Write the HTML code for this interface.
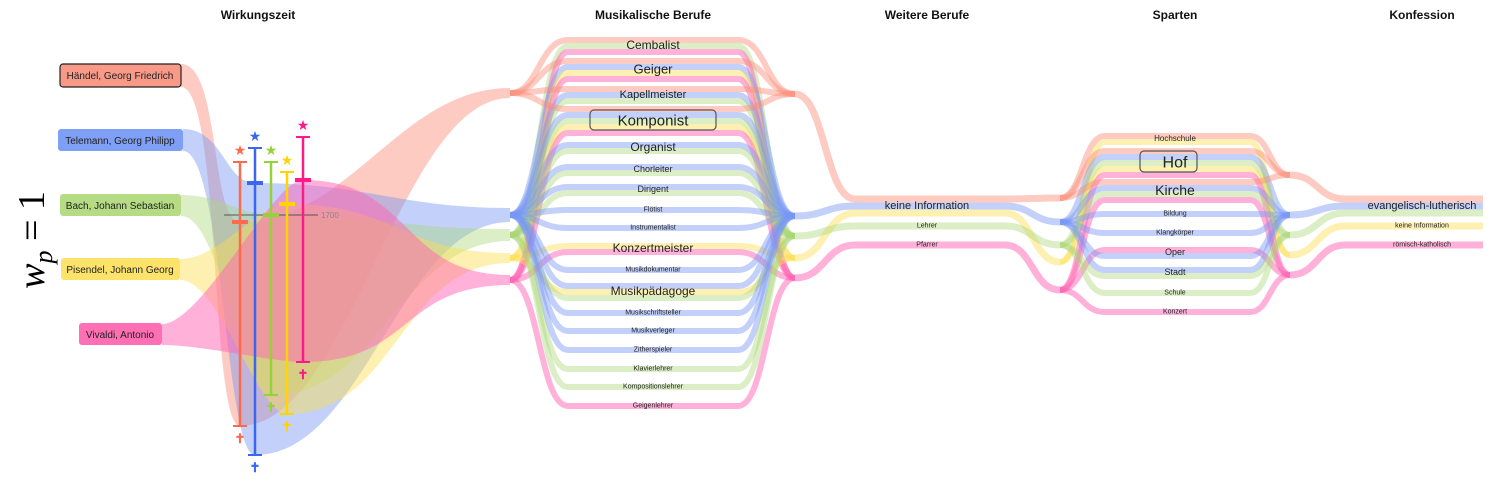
<!DOCTYPE html>
<html><head><meta charset="utf-8">
<style>
html,body{margin:0;padding:0;background:#fff;}
svg{display:block;font-family:"Liberation Sans",sans-serif;}
.h{font-weight:bold;font-size:12px;text-anchor:middle;fill:#111;}
.l{text-anchor:middle;fill:#222;}
</style></head><body>
<svg id="s" width="1499" height="484" viewBox="0 0 1499 484" xmlns="http://www.w3.org/2000/svg">
<g id="bands"></g>
<g id="fg">
<text class="h" x="258" y="19">Wirkungszeit</text>
<text class="h" x="653" y="19">Musikalische Berufe</text>
<text class="h" x="927" y="19">Weitere Berufe</text>
<text class="h" x="1175" y="19">Sparten</text>
<text class="h" x="1422" y="19">Konfession</text>
<text x="0" y="0" transform="translate(44,240) rotate(-90)" font-family="Liberation Serif,serif" font-size="38" text-anchor="middle" font-style="italic">w<tspan font-size="26" dy="8">p</tspan><tspan font-style="normal" dy="-8"> = 1</tspan></text>

<line x1="224" y1="215" x2="318" y2="215" stroke="#555" stroke-width="1"/>
<text x="321" y="218" font-size="8" fill="#888">1700</text>

<rect x="60" y="64" width="121" height="23" rx="3" fill="#f99a88" stroke="#222" stroke-width="1.2"/>
<text x="120" y="79" font-size="10" class="l">Händel, Georg Friedrich</text>
<rect x="58" y="129" width="125" height="22" rx="3" fill="#7f9ef5"/>
<text x="120" y="144" font-size="10" class="l">Telemann, Georg Philipp</text>
<rect x="60" y="194" width="121" height="22" rx="3" fill="#b5dc85"/>
<text x="120" y="209" font-size="10" class="l">Bach, Johann Sebastian</text>
<rect x="61" y="258" width="119" height="22" rx="3" fill="#fde36a"/>
<text x="120" y="273" font-size="10" class="l">Pisendel, Johann Georg</text>
<rect x="79" y="323" width="83" height="22" rx="3" fill="#ff6fb4"/>
<text x="120" y="338" font-size="10" class="l">Vivaldi, Antonio</text>

<g id="life"></g>

<rect x="590" y="110" width="126" height="20" rx="4" fill="none" stroke="#555" stroke-width="1.2"/>
<rect x="1140" y="151" width="57" height="21" rx="4" fill="none" stroke="#555" stroke-width="1.2"/>
<g id="labels"></g>
</g>
</svg>
<script>
var NS="http://www.w3.org/2000/svg";
function el(p,t,a,txt){var e=document.createElementNS(NS,t);for(var k in a)e.setAttribute(k,a[k]);if(txt)e.textContent=txt;document.getElementById(p).appendChild(e);return e;}
var C={r:"rgba(250,140,120,0.45)",b:"rgba(120,150,245,0.45)",g:"rgba(170,215,120,0.42)",y:"rgba(253,222,80,0.45)",p:"rgba(255,100,180,0.5)"};
var LC={r:"#ff6a4d",b:"#3a66f0",g:"#94d13a",y:"#ffd400",p:"#ff1a8c"};
var P=[
["r",[181,64,87],[240,222,426],[510,88,98]],
["b",[183,129,151],[255,183,455],[510,208,222]],
["g",[181,195,216],[271,215,395],[510,229,241]],
["y",[180,259,280],[287,204,414],[510,253,263]],
["p",[162,324,345],[303,180,362],[510,275,285]]];
P.forEach(function(q){var a=q[1],m=q[2],z=q[3];
var d="M"+a[0]+","+a[1]+" C"+(a[0]+40)+","+a[1]+" "+(m[0]-30)+","+m[1]+" "+m[0]+","+m[1]+
" C"+(m[0]+110)+","+m[1]+" "+(z[0]-110)+","+z[1]+" "+z[0]+","+z[1]+" L"+z[0]+","+z[2]+
" C"+(z[0]-110)+","+z[2]+" "+(m[0]+110)+","+m[2]+" "+m[0]+","+m[2]+
" C"+(m[0]-30)+","+m[2]+" "+(a[0]+40)+","+a[2]+" "+a[0]+","+a[2]+" Z";
el("bands","path",{d:d,fill:C[q[0]]});});
[["r",240,162,222,426],["b",255,148,183,455],["g",271,162,215,395],["y",287,172,204,414],["p",303,137,180,362]].forEach(function(q){
var c=LC[q[0]],x=q[1];
el("life","line",{x1:x,y1:q[2],x2:x,y2:q[4],stroke:c,"stroke-width":2.5});
el("life","line",{x1:x-7,y1:q[2],x2:x+7,y2:q[2],stroke:c,"stroke-width":2});
el("life","line",{x1:x-7,y1:q[4],x2:x+7,y2:q[4],stroke:c,"stroke-width":2});
el("life","line",{x1:x-8,y1:q[3],x2:x+8,y2:q[3],stroke:c,"stroke-width":4});
el("life","text",{x:x,y:q[2]-7,"font-size":14,"text-anchor":"middle",fill:c},"★");
el("life","text",{x:x,y:q[4]+17,"font-size":13,"font-weight":"bold","text-anchor":"middle",fill:c},"✝");
});
function cols(s){return s.split("");}
var A0={r:93,b:215,g:235,y:258,p:280}, A1={r:94,b:216,g:236,y:258,p:278},
A2={r:198,b:222,g:245,y:262,p:290}, A3={r:175,b:215,g:235,y:255,p:275};
var M=[["Cembalist",45,12,"rgp"],["Geiger",69,13,"rbyp"],["Kapellmeister",94,11,"rbg"],["Komponist",120,15,"rbgyp"],
["Organist",147,12,"bg"],["Chorleiter",169,9,"bg"],["Dirigent",189,9,"bg"],["Flötist",209,7,"b"],["Instrumentalist",227,7,"b"],
["Konzertmeister",248,12,"yp"],["Musikdokumentar",269,7,"b"],["Musikpädagoge",291,12,"byg"],["Musikschriftsteller",312,7,"b"],
["Musikverleger",330,7,"b"],["Zitherspieler",349,7,"b"],["Klavierlehrer",368,7,"g"],["Kompositionslehrer",386,7,"g"],["Geigenlehrer",405,7,"p"]];
var W=[["keine Information",205,11,"rby"],["Lehrer",225,7,"g"],["Pfarrer",244,7,"p"]];
var S=[["Hochschule",138,8,"ry"],["Hof",162,16,"rbgyp"],["Kirche",190,14,"rbgp"],["Bildung",213,7,"b"],["Klangkörper",232,7,"b"],
["Oper",252,9,"pb"],["Stadt",272,9,"bg"],["Schule",292,7,"g"],["Konzert",311,7,"p"]];
var K=[["evangelisch-lutherisch",205,11,"rbg"],["keine Information",225,7,"y"],["römisch-katholisch",244,7,"p"]];
function column(rows,xl,xs,xe,xr,AL,AR,cx,th,sp){
rows.forEach(function(r){var cs=cols(r[3]);var n=cs.length;
cs.forEach(function(c,i){var y=r[1]-(n-1)*sp/2+i*sp+1;
var m1=(xl+xs)/2,m2=(xe+xr)/2;
var d="M"+xl+","+AL[c]+" C"+m1+","+AL[c]+" "+m1+","+y+" "+xs+","+y+" L"+xe+","+y;
if(xr!==null)d+=" C"+m2+","+y+" "+m2+","+AR[c]+" "+xr+","+AR[c];
el("bands","path",{d:d,fill:"none",stroke:C[c],"stroke-width":th});});
el("labels","text",{x:cx,y:r[1]+r[2]*0.35,"font-size":r[2],class:"l"},r[0]);});}
column(M,510,568,738,795,A0,A1,653,6,6);
column(W,795,855,1005,1060,A1,A2,927,7,7);
column(S,1060,1105,1250,1290,A2,A3,1175,6,6);
column(K,1290,1345,1483,null,A3,null,1422,7,7);
</script>
</body></html>
